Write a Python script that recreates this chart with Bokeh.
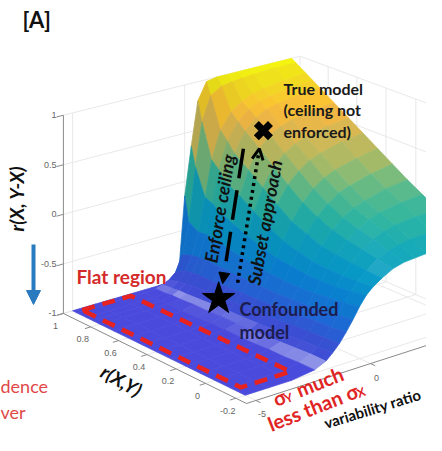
import numpy as np
from bokeh.plotting import figure
from bokeh.models import Range1d, ColumnDataSource, Arrow, NormalHead, OpenHead
from bokeh.core.properties import value
from bokeh.embed import file_html
from bokeh.resources import INLINE

# ---------------- data ----------------
r_values = [1.0, 0.97, 0.9, 0.85, 0.8, 0.7, 0.6, 0.5, 0.4, 0.3, 0.2, 0.1, 0.0, -0.1, -0.2]
ratio_values = [-5, -4, -3, -2, -1.5, -1.2, -0.9, -0.6, -0.3, 0, 0.3, 0.6, 1, 1.5, 2, 2.5, 3, 4, 5]
z_surface = [
    [-1, -1, -1, -1, -1, -1, -1, -1, -1, -0.15, 0.35, 0.8, 0.98, 1, 1, 1, 1, 1, 1],
    [-1, -1, -1, -1, -0.99, -0.97, -0.94, -0.88, -0.72, -0.4, 0.15, 0.6, 0.85, 0.92, 0.94, 0.95, 0.96, 0.97, 0.97],
    [-1, -1, -1, -1, -0.99, -0.96, -0.91, -0.82, -0.68, -0.46, -0.12, 0.25, 0.53, 0.69, 0.77, 0.82, 0.85, 0.88, 0.9],
    [-1, -1, -1, -1, -0.98, -0.95, -0.9, -0.81, -0.67, -0.45, -0.15, 0.18, 0.45, 0.62, 0.72, 0.77, 0.8, 0.83, 0.85],
    [-1, -1, -1, -1, -0.98, -0.95, -0.89, -0.8, -0.66, -0.46, -0.2, 0.08, 0.35, 0.55, 0.66, 0.72, 0.75, 0.78, 0.8],
    [-1, -1, -1, -1, -0.97, -0.94, -0.88, -0.8, -0.67, -0.49, -0.27, 0.0, 0.24, 0.43, 0.54, 0.6, 0.64, 0.68, 0.7],
    [-1, -1, -1, -1, -0.97, -0.93, -0.87, -0.79, -0.68, -0.52, -0.33, -0.1, 0.12, 0.3, 0.41, 0.48, 0.52, 0.57, 0.6],
    [-1, -1, -1, -0.99, -0.96, -0.92, -0.86, -0.78, -0.68, -0.54, -0.38, -0.19, 0.01, 0.18, 0.29, 0.37, 0.41, 0.47, 0.5],
    [-1, -1, -1, -0.99, -0.96, -0.92, -0.86, -0.78, -0.68, -0.56, -0.42, -0.27, -0.1, 0.06, 0.17, 0.25, 0.3, 0.36, 0.4],
    [-1, -1, -1, -0.99, -0.95, -0.91, -0.85, -0.77, -0.68, -0.57, -0.44, -0.31, -0.16, -0.02, 0.08, 0.16, 0.2, 0.26, 0.3],
    [-1, -1, -1, -0.99, -0.95, -0.9, -0.84, -0.76, -0.67, -0.57, -0.46, -0.35, -0.22, -0.09, 0.0, 0.07, 0.11, 0.17, 0.2],
    [-1, -1, -1, -0.98, -0.94, -0.89, -0.82, -0.74, -0.66, -0.56, -0.46, -0.36, -0.24, -0.13, -0.05, 0.01, 0.05, 0.09, 0.11],
    [-1, -1, -1, -0.98, -0.93, -0.88, -0.81, -0.73, -0.64, -0.54, -0.45, -0.36, -0.26, -0.16, -0.09, -0.04, -0.01, 0.01, 0.02],
    [-1, -1, -1, -0.97, -0.92, -0.87, -0.8, -0.72, -0.62, -0.52, -0.43, -0.35, -0.27, -0.19, -0.14, -0.11, -0.09, -0.08, -0.07],
    [-1, -1, -1, -0.97, -0.92, -0.86, -0.79, -0.7, -0.6, -0.49, -0.4, -0.34, -0.28, -0.22, -0.19, -0.18, -0.17, -0.16, -0.16],
]
z_ticks = [-1, -0.5, 0, 0.5, 1]
z_tick_labels = ["-1", "-0.5", "0", "0.5", "1"]
r_ticks = [1, 0.8, 0.6, 0.4, 0.2, 0, -0.2]
r_tick_labels = ["1", "0.8", "0.6", "0.4", "0.2", "0", "-0.2"]
ratio_ticks = [-5, 0, 5]
ratio_tick_labels = ["-5", "0", "5"]

true_model_point = (0.6, 1.03, 0.70)      # (r(X,Y), variability ratio, r(X,Y-X))
confounded_point = (0.6, -1.0, -0.88)
flat_box_r = (-0.125, 0.98)
flat_box_ratio = (-4.7, -2.55)

# ---------------- view of the 3-D box ----------------
R_LIM = (-0.27, 1.0)
T_LIM = (-5.4, 5.4)
Z_LIM = (-1.0, 1.0)
ORIGIN = (246.0, 403.0)
VEC_R = (-153.5, -75.5)
VEC_T = (23.6, -7.6)
VEC_Z = (0.0, -105.5)
KAPPA = 0.12
DEPTH_SPAN = -(VEC_R[1] * (R_LIM[1] - R_LIM[0]) + VEC_T[1] * (T_LIM[1] - T_LIM[0]))


def proj(r, t, z):
    r = np.asarray(r, float)
    t = np.asarray(t, float)
    z = np.asarray(z, float)
    dr, dt, dz = r - R_LIM[0], t - T_LIM[0], z - Z_LIM[0]
    depth = -(dr * VEC_R[1] + dt * VEC_T[1]) / DEPTH_SPAN
    s = 1.0 / (1.0 + KAPPA * depth)
    x = ORIGIN[0] + s * (dr * VEC_R[0] + dt * VEC_T[0] + dz * VEC_Z[0])
    y = ORIGIN[1] + s * (dr * VEC_R[1] + dt * VEC_T[1] + dz * VEC_Z[1])
    return x, y


PAL_Z = [-1.0, -0.84, -0.68, -0.5, -0.33, -0.16, 0.0, 0.16, 0.33, 0.49, 0.65, 0.75, 0.84, 0.94, 1.0]
PAL = ["#4a4adc", "#3a52da", "#1f6ee0", "#0a86db", "#079ccf", "#14aabd", "#2eb7a4", "#5fbd8c",
       "#a5be6b", "#d1bb59", "#f8ba44", "#fec832", "#f7d826", "#f5eb18", "#f9fa0e"]
PAL_RGB = np.array([[int(h[i:i + 2], 16) for i in (1, 3, 5)] for h in PAL], float) / 255.0


def zcolor(z):
    return np.array([np.interp(z, PAL_Z, PAL_RGB[:, k]) for k in range(3)])


def to_hex(c):
    c = np.clip(c, 0, 1)
    return "#%02x%02x%02x" % tuple(int(round(v * 255)) for v in c)


p = figure(width=426, height=435, x_range=Range1d(0, 426), y_range=Range1d(435, 0),
           output_backend="svg", toolbar_location=None, min_border=0,
           x_axis_location=None, y_axis_location=None)
p.grid.visible = False
p.outline_line_color = None
p.background_fill_color = "white"

# ---------------- grid on the box walls ----------------
gx, gy = [], []


def seg(a, b, n=2):
    rr = np.linspace(a[0], b[0], n)
    tt = np.linspace(a[1], b[1], n)
    zz = np.linspace(a[2], b[2], n)
    x, y = proj(rr, tt, zz)
    gx.append(list(x))
    gy.append(list(y))


for z in z_ticks:
    seg((1, T_LIM[0], z), (1, T_LIM[1], z), 12)
    seg((R_LIM[0], T_LIM[1], z), (1, T_LIM[1], z), 12)
for t in ratio_ticks:
    seg((1, t, -1), (1, t, 1))
    seg((R_LIM[0], t, -1), (1, t, -1), 12)
for r in r_ticks:
    seg((r, T_LIM[1], -1), (r, T_LIM[1], 1))
    seg((r, T_LIM[0], -1), (r, T_LIM[1], -1), 12)
p.multi_line(gx, gy, line_color="#e2e2e2", line_width=0.8)

zx, zy = proj([1, 1], [T_LIM[0], T_LIM[0]], [-1, 1])
p.line(zx, zy, line_color="#8a8a8a", line_width=1)

# ---------------- surface ----------------
Z = np.array(z_surface, float)
Rg = np.array(r_values, float)[:, None] * np.ones_like(Z)
Tg = np.array(ratio_values, float)[None, :] * np.ones_like(Z)
SX, SY = proj(Rg, Tg, Z)
H = np.array([-0.42, 0.0, 1.0])
H = H / np.linalg.norm(H)
quads = []
nr, nt = Z.shape
for i in range(nr - 1):
    for j in range(nt - 1):
        zc = Z[i:i + 2, j:j + 2]
        dt = ratio_values[j + 1] - ratio_values[j]
        dr = r_values[i] - r_values[i + 1]
        dzdt = ((zc[0, 1] - zc[0, 0]) + (zc[1, 1] - zc[1, 0])) / (2 * dt)
        dzdr = ((zc[0, 0] - zc[1, 0]) + (zc[0, 1] - zc[1, 1])) / (2 * dr)
        gX = 0.375 * (T_LIM[1] - T_LIM[0]) * dzdt
        gY = 0.375 * (R_LIM[1] - R_LIM[0]) * dzdr
        n = np.array([-gX, -gY, 1.0])
        n = n / np.linalg.norm(n)
        spec = max(float(n @ H), 0.0) ** 150
        base = zcolor(zc.mean()) * (0.86 + 0.14 * n[2])
        col = base + (1 - base) * 0.4 * spec
        xs = [SX[i, j], SX[i, j + 1], SX[i + 1, j + 1], SX[i + 1, j]]
        ys = [SY[i, j], SY[i, j + 1], SY[i + 1, j + 1], SY[i + 1, j]]
        rc = (r_values[i] + r_values[i + 1]) / 2
        tc = (ratio_values[j] + ratio_values[j + 1]) / 2
        key = float(proj(rc, tc, -1)[1])
        quads.append((key, xs, ys, to_hex(col)))
quads.sort(key=lambda q: q[0])
src = ColumnDataSource(dict(xs=[q[1] for q in quads], ys=[q[2] for q in quads],
                            color=[q[3] for q in quads]))
p.patches("xs", "ys", fill_color="color", line_color="color", line_width=0.7, source=src)

# ---------------- front axes, ticks, labels ----------------
ax, ay = proj([R_LIM[0], 1], [T_LIM[0], T_LIM[0]], [-1, -1])
p.line(ax, ay, line_color="#8a8a8a", line_width=1)
bx, by = proj([R_LIM[0], R_LIM[0]], [T_LIM[0], T_LIM[1]], [-1, -1])
p.line(bx, by, line_color="#8a8a8a", line_width=1)

tkx, tky = [], []
for z in z_ticks:
    x, y = proj([1, 1], [T_LIM[0], T_LIM[0] - 0.3], [z, z])
    tkx.append(list(x)); tky.append(list(y))
for r in r_ticks:
    x, y = proj([r, r], [T_LIM[0], T_LIM[0] - 0.25], [-1, -1])
    tkx.append(list(x)); tky.append(list(y))
for t in ratio_ticks:
    x, y = proj([R_LIM[0], R_LIM[0] - 0.03], [t, t], [-1, -1])
    tkx.append(list(x)); tky.append(list(y))
p.multi_line(tkx, tky, line_color="#8a8a8a", line_width=1)

TICK_FONT = value("Liberation Sans")
lx, ly = proj(np.ones(len(z_ticks)), np.full(len(z_ticks), T_LIM[0]), z_ticks)
p.text(lx - 7, ly, text=z_tick_labels, text_align="right", text_baseline="middle",
       text_font=TICK_FONT, text_font_size="9px", text_color="#666666")
lx, ly = proj(r_ticks, np.full(len(r_ticks), T_LIM[0]), np.full(len(r_ticks), -1.0))
p.text(lx - 8, ly + 12.5, text=r_tick_labels, text_align="center", text_baseline="middle",
       text_font=TICK_FONT, text_font_size="9px", text_color="#666666")
lx, ly = proj(np.full(len(ratio_ticks), R_LIM[0]), ratio_ticks, np.full(len(ratio_ticks), -1.0))
keep = [k for k in range(len(ratio_ticks)) if lx[k] < 415]
p.text([lx[k] + 6 for k in keep], [ly[k] + 14 for k in keep],
       text=[ratio_tick_labels[k] for k in keep], text_align="center", text_baseline="middle",
       text_font=TICK_FONT, text_font_size="9px", text_color="#666666")

# ---------------- flat region box ----------------
cr = [flat_box_r[1], flat_box_r[1], flat_box_r[0], flat_box_r[0], flat_box_r[1]]
ct = [flat_box_ratio[0], flat_box_ratio[1], flat_box_ratio[1], flat_box_ratio[0], flat_box_ratio[0]]
fx, fy = proj(cr, ct, np.full(5, -1.0))
p.line(fx, fy, line_color="#e8221e", line_width=4.5, line_dash="13 8")

# ---------------- markers and arrows ----------------
tmx, tmy = [float(v) for v in proj(*true_model_point)]
cmx, cmy = [float(v) for v in proj(*confounded_point)]

p.add_layout(Arrow(end=NormalHead(size=11, fill_color="black", line_color="black"),
                   x_start=tmx - 20, y_start=tmy + 18, x_end=cmx + 4, y_end=cmy - 15,
                   line_color="black", line_width=3.5, line_dash="30 12"))
p.add_layout(Arrow(end=OpenHead(size=11, line_color="black", line_width=3),
                   x_start=cmx + 19, y_start=cmy - 16, x_end=tmx - 4, y_end=tmy + 18,
                   line_color="black", line_width=3.5, line_dash="3 4"))
p.scatter([tmx], [tmy], marker="x", size=20, line_color="black", line_width=7)
p.scatter([cmx], [cmy], marker="star", size=34, fill_color="black", line_color="black")

p.add_layout(Arrow(end=NormalHead(size=14, fill_color="#2a7ac0", line_color="#2a7ac0"),
                   x_start=33, y_start=244, x_end=33, y_end=304,
                   line_color="#2a7ac0", line_width=4))

# ---------------- texts ----------------
LATO = value("Lato")
p.text([22], [19], text=["[A]"], text_align="left", text_baseline="middle",
       text_font=LATO, text_font_size="22px", text_font_style="bold", text_color="#111111")
p.text([16], [198], text=["r(X, Y-X)"], angle=np.pi / 2, text_align="center",
       text_baseline="middle", text_font=LATO, text_font_size="19px",
       text_font_style="bold italic", text_color="#111111")
p.text([121], [380], text=["r(X,Y)"], angle=-0.52, text_align="center",
       text_baseline="middle", text_font=LATO, text_font_size="19px",
       text_font_style="bold italic", text_color="#111111")
p.text([372], [408], text=["variability ratio"], angle=0.30, text_align="center",
       text_baseline="middle", text_font=LATO, text_font_size="15px",
       text_font_style="bold", text_color="#111111")
p.text([76], [276], text=["Flat region"], text_align="left", text_baseline="middle",
       text_font=LATO, text_font_size="19px", text_font_style="bold", text_color="#d42a2a")
p.text([0, 0], [385, 411], text=["dence", "ver"], text_align="left", text_baseline="middle",
       text_font=LATO, text_font_size="18px", text_color="#e04848")
p.text([283, 283, 283], [88, 109, 131], text=["True model", "(ceiling not", "enforced)"],
       text_align="left", text_baseline="middle", text_font=LATO, text_font_size="16px",
       text_font_style="bold", text_color="#1a1a1a")
p.text([239, 239], [308, 331], text=["Confounded", "model"], text_align="left",
       text_baseline="middle", text_font=LATO, text_font_size="18px",
       text_font_style="bold", text_color="#1c1c4e")
p.text([219], [208], text=["Enforce ceiling"], angle=1.405, text_align="center",
       text_baseline="middle", text_font=LATO, text_font_size="18px",
       text_font_style="bold italic", text_color="#111111")
p.text([264], [222], text=["Subset approach"], angle=1.393, text_align="center",
       text_baseline="middle", text_font=LATO, text_font_size="18px",
       text_font_style="bold italic", text_color="#111111")

# red rotated note with subscripts
th = 0.375
d = np.array([np.cos(th), -np.sin(th)])
nrm = np.array([np.sin(th), np.cos(th)])
RED = "#e02424"


def piece(start, along, down, txt, size):
    pt = np.array(start) + along * d + down * nrm
    p.text([pt[0]], [pt[1]], text=[txt], angle=th, text_align="left",
           text_baseline="alphabetic", text_font=LATO, text_font_size=size,
           text_font_style="bold", text_color=RED)


s1 = (273, 399)
piece(s1, 0, 0, "σ", "20px")
piece(s1, 11, 4, "Y", "12px")
piece(s1, 25, 0, "much", "20px")
s2 = (268, 424)
piece(s2, 0, 0, "less than σ", "20px")
piece(s2, 94, 4, "X", "12px")

open("out.html", "w").write(file_html(p, INLINE))
